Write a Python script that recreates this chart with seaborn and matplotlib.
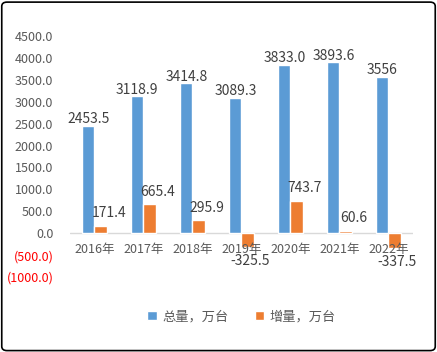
import pandas as pd
import seaborn as sns
import matplotlib.pyplot as plt
from matplotlib.patches import FancyBboxPatch
from matplotlib.ticker import FuncFormatter, MultipleLocator

# chart data
years = ['2016年', '2017年', '2018年', '2019年', '2020年', '2021年', '2022年']
total = [2453.5, 3118.9, 3414.8, 3089.3, 3833.0, 3893.6, 3556]
total_labels = ['2453.5', '3118.9', '3414.8', '3089.3', '3833.0', '3893.6', '3556']
growth = [171.4, 665.4, 295.9, -325.5, 743.7, 60.6, -337.5]
series_names = ['总量，万台', '增量，万台']

df = pd.DataFrame({
    'year': years * 2,
    'value': total + growth,
    'series': [series_names[0]] * len(years) + [series_names[1]] * len(years),
})

sns.set_style('white')
plt.rcParams['font.family'] = ['Noto Sans CJK SC', 'DejaVu Sans']

fig = plt.figure(figsize=(4.37, 3.52), dpi=100)
ax = fig.add_axes([0.160, 0.213, 0.785, 0.685])

sns.barplot(data=df, x='year', y='value', hue='series', width=0.5,
            palette=['#5B9BD5', '#ED7D31'], saturation=1, ax=ax)

ax.set_xlim(-0.5, 6.5)
ax.set_ylim(-1000, 4500)
ax.yaxis.set_major_locator(MultipleLocator(500))
ax.yaxis.set_major_formatter(FuncFormatter(
    lambda v, p: f'({abs(v):.1f})' if v < 0 else f'{v:.1f}'))
for t, v in zip(ax.get_yticklabels(), ax.get_yticks()):
    if v < 0:
        t.set_color('#FF0000')
    else:
        t.set_color('#595959')
ax.tick_params(axis='y', length=0, pad=12, labelsize=9)
ax.tick_params(axis='x', length=0)
for s in ax.spines.values():
    s.set_visible(False)
ax.axhline(0, color='#D9D9D9', lw=1, zorder=0)
ax.set_xlabel('')
ax.set_ylabel('')

# year labels sit right under the zero line
ax.set_xticks(range(len(years)))
ax.set_xticklabels([])
for i, y in enumerate(years):
    ax.annotate(y, (i, 0), xytext=(0, -12), textcoords='offset points',
                ha='center', va='center', fontsize=9, color='#595959')

# value labels
for bar, lab in zip(ax.containers[0], total_labels):
    ax.annotate(lab, (bar.get_x() + bar.get_width() / 2, bar.get_height()),
                xytext=(0, 5), textcoords='offset points',
                ha='center', va='center', fontsize=10, color='#404040')
for bar, v in zip(ax.containers[1], growth):
    x = bar.get_x() + bar.get_width() / 2
    if v >= 0:
        ax.annotate(f'{v:.1f}', (x, v), xytext=(6, 9), textcoords='offset points',
                    ha='center', va='center', fontsize=10, color='#404040')
    else:
        ax.annotate(f'{v:.1f}', (x, v), xytext=(2, -10), textcoords='offset points',
                    ha='center', va='center', fontsize=10, color='#404040')

leg = ax.legend(loc='center', bbox_to_anchor=(0.5, -0.165), ncol=2, frameon=False,
                fontsize=9.5, handlelength=0.7, handleheight=0.7, handletextpad=0.4,
                columnspacing=2.0)
for t in leg.get_texts():
    t.set_color('#595959')

fig.patches.append(FancyBboxPatch((0.004, 0.004), 0.992, 0.99,
                                  boxstyle='round,pad=0,rounding_size=0.012',
                                  transform=fig.transFigure, fill=False,
                                  edgecolor='black', lw=1.2))

fig.savefig('out.png', dpi=100)
